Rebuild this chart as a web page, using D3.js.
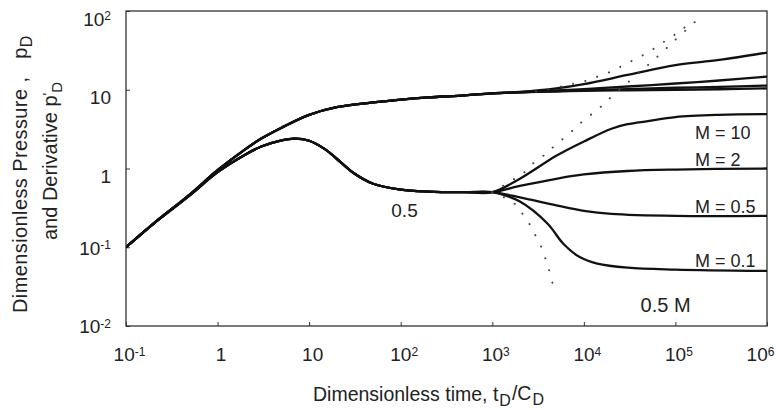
<!DOCTYPE html>
<html>
<head>
<meta charset="utf-8">
<script src="https://cdn.jsdelivr.net/npm/d3@7/dist/d3.min.js"></script>
<style>
  body { margin: 0; background: #fff; }
  svg { font-family: "Liberation Sans", Arial, sans-serif; fill: #222; }
</style>
</head>
<body>
<div id="chart-area"></div>
<script>
// tick values (decades)
var tTicks = [0.1, 1, 10, 100, 1e3, 1e4, 1e5, 1e6];
var pTicks = [0.01, 0.1, 1, 10, 100];

// early time: wellbore storage + skin
var tEarly = [0.1, 0.2, 0.5, 1, 2, 3, 5, 10, 20, 50, 100, 200, 500, 1000];
var pressureEarly = [0.1, 0.2, 0.47, 0.95, 1.75, 2.4, 3.3, 4.8, 6.0, 6.9, 7.5, 8.0, 8.5, 9.0];

var tDeriv = [0.1, 0.2, 0.5, 1, 2, 3, 5, 7, 10, 15, 20, 30, 50, 100, 200, 500, 1000];
var derivEarly = [0.1, 0.2, 0.46, 0.9, 1.5, 1.9, 2.28, 2.4, 2.25, 1.75, 1.33, 0.89, 0.64, 0.54, 0.51, 0.5, 0.5];

// late time, one curve per mobility ratio M
var mobility = ["10", "2", "0.5", "0.1"];
var tLate = [1000, 2000, 5000, 1e4, 3e4, 1e5, 3e5, 1e6];
var pressureM10 = [9.0, 9.4, 10.4, 11.8, 15.4, 20.6, 23.9, 29.7];
var pressureM2 = [9.0, 9.3, 9.8, 10.2, 11.0, 12.0, 13.1, 14.7];
var pressureM05 = [9.0, 9.3, 9.6, 9.9, 10.2, 10.6, 10.9, 11.3];
var pressureM01 = [9.0, 9.25, 9.5, 9.7, 9.85, 10.0, 10.15, 10.4];

var tDerivM10 = [1000, 2000, 5000, 1e4, 2e4, 3e4, 5e4, 1e5, 3e5, 1e6];
var derivM10 = [0.5, 0.74, 1.45, 2.2, 3.2, 3.65, 4.0, 4.5, 4.8, 4.9];
var tDerivM2 = [1000, 2000, 5000, 1e4, 3e4, 1e5, 1e6];
var derivM2 = [0.5, 0.6, 0.74, 0.84, 0.93, 0.97, 1.0];
var tDerivM05 = [1000, 2000, 5000, 1e4, 2e4, 1e5, 1e6];
var derivM05 = [0.5, 0.43, 0.34, 0.29, 0.265, 0.25, 0.25];
var tDerivM01 = [1000, 2000, 4000, 6000, 9000, 14000, 30000, 1e5, 1e6];
var derivM01 = [0.5, 0.38, 0.2, 0.11, 0.075, 0.062, 0.055, 0.052, 0.05];

// dotted limits (no-flow and constant pressure outer boundary)
var tNoFlowP = [3000, 5500, 7900, 10900, 15000, 20900, 28000, 38000, 52000, 70000, 95000, 122000, 160000];
var noFlowP = [9.5, 10.9, 12, 13.1, 15.1, 17.5, 21, 25, 30.6, 38.6, 48.7, 60, 78];
var tNoFlowDeriv = [1000, 1690, 2220, 2860, 3750, 4700, 8200, 10400, 13700, 18000, 64000, 106000, 175000];
var noFlowDeriv = [0.5, 0.72, 0.89, 1.19, 1.5, 1.9, 3.3, 4.3, 5.4, 7.3, 26.5, 46, 78];
var tConstPDeriv = [1000, 1690, 2170, 2600, 3000, 3500, 3860, 4240, 4600];
var constPDeriv = [0.5, 0.37, 0.26, 0.19, 0.137, 0.096, 0.068, 0.048, 0.033];

function zip(ts, vs) { return ts.map(function(t, i) { return [t, vs[i]]; }); }

var margin = { left: 126, right: 9, top: 11, bottom: 84 };
var width = 776 - margin.left - margin.right,
    height = 410 - margin.top - margin.bottom;

var svg = d3.select("#chart-area")
    .append("svg")
        .attr("width", 776)
        .attr("height", 410);

var g = svg.append("g")
    .attr("transform", "translate(" + margin.left + "," + margin.top + ")");

var x = d3.scaleLog().domain([0.1, 1e6]).range([0, width]);
var y = d3.scaleLog().domain([0.01, 100]).range([height, 0]);

function expOf(v) { return Math.round(Math.log10(v)); }
function setPowerLabel(sel) {
    sel.each(function(d) {
        var e = expOf(d), t = d3.select(this);
        t.text(null);
        if (e === 0) { t.text("1"); return; }
        t.append("tspan").text("10");
        if (e !== 1) {
            t.append("tspan").attr("font-size", "12px").attr("dy", "-0.45em").text(e);
        }
    });
}

// X Axis
var xAxis = g.append("g")
    .attr("transform", "translate(0," + height + ")")
    .call(d3.axisBottom(x).tickValues(tTicks).tickSizeInner(-4).tickSizeOuter(0).tickPadding(22));
xAxis.select(".domain").remove();
xAxis.selectAll("text")
    .attr("font-size", "19px").attr("fill", "#222")
    .attr("dx", function(d) { return d === 1e6 ? -7 : 3; })
    .call(setPowerLabel);

// Y Axis
var yAxis = g.append("g")
    .call(d3.axisLeft(y).tickValues(pTicks).tickSizeInner(-4).tickSizeOuter(0).tickPadding(15));
yAxis.select(".domain").remove();
yAxis.selectAll("text")
    .attr("font-size", "19px").attr("fill", "#222")
    .attr("dy", function(d) { return d >= 1 ? "0.74em" : "0.36em"; })
    .call(setPowerLabel);
g.selectAll(".tick line").attr("stroke", "#333");

// frame
g.append("rect")
    .attr("width", width).attr("height", height)
    .attr("fill", "none").attr("stroke", "#333").attr("stroke-width", 1.3);

// X Label
var xl = svg.append("text")
    .attr("x", 313).attr("y", 401)
    .attr("font-size", "19.5px");
xl.append("tspan").text("Dimensionless time,\u00a0t");
xl.append("tspan").attr("font-size", "16px").attr("dy", "0.3em").attr("dx", 1).text("D");
xl.append("tspan").attr("dy", "-0.3em").attr("dx", 1).text("/C");
xl.append("tspan").attr("font-size", "16px").attr("dy", "0.3em").attr("dx", 1).text("D");

// Y Label
var yl1 = svg.append("text")
    .attr("transform", "translate(27,313) rotate(-90)")
    .attr("font-size", "20px")
    .attr("letter-spacing", "0.4px");
yl1.append("tspan").text("Dimensionless Pressure\u00a0,\u00a0\u00a0\u00a0p");
yl1.append("tspan").attr("font-size", "16px").attr("dy", "0.3em").text("D");

var yl2 = svg.append("text")
    .attr("transform", "translate(57,240) rotate(-90)")
    .attr("font-size", "20px");
yl2.append("tspan").text("and Derivative p");
yl2.append("tspan").attr("font-size", "14px").attr("dy", "-0.3em").text("'");
yl2.append("tspan").attr("font-size", "15px").attr("dy", "0.6em").text("D");

// curves
g.append("clipPath").attr("id", "plot-clip")
    .append("rect").attr("width", width).attr("height", height);
var plot = g.append("g").attr("clip-path", "url(#plot-clip)");

var line = d3.line()
    .x(function(d) { return x(d[0]); })
    .y(function(d) { return y(d[1]); })
    .curve(d3.curveCatmullRom.alpha(0.5));

var earlyP = zip(tEarly, pressureEarly);
var earlyD = zip(tDeriv, derivEarly);
var pressureLate = [pressureM10, pressureM2, pressureM05, pressureM01];
var derivLate = [zip(tDerivM10, derivM10), zip(tDerivM2, derivM2), zip(tDerivM05, derivM05), zip(tDerivM01, derivM01)];

var solid = [];
pressureLate.forEach(function(vals) { solid.push(earlyP.concat(zip(tLate, vals).slice(1))); });
derivLate.forEach(function(pts) { solid.push(earlyD.concat(pts.slice(1))); });

plot.selectAll("path.solid")
    .data(solid)
    .enter().append("path")
        .attr("class", "solid")
        .attr("d", line)
        .attr("fill", "none")
        .attr("stroke", "#111")
        .attr("stroke-width", 2.3)
        .attr("stroke-linejoin", "round");

var dotted = [zip(tNoFlowP, noFlowP), zip(tNoFlowDeriv, noFlowDeriv), zip(tConstPDeriv, constPDeriv)];
plot.selectAll("path.dotted")
    .data(dotted)
    .enter().append("path")
        .attr("class", "dotted")
        .attr("d", line)
        .attr("fill", "none")
        .attr("stroke", "#444")
        .attr("stroke-width", 2)
        .attr("stroke-linecap", "round")
        .attr("stroke-dasharray", "0.1,12.5");

// labels
var finalDeriv = [derivM10, derivM2, derivM05, derivM01].map(function(a) { return a[a.length - 1]; });
var labelShift = [25, -3, -3, -4];
g.selectAll("text.mlabel")
    .data(mobility)
    .enter().append("text")
        .attr("class", "mlabel")
        .attr("x", x(1e6) - 72)
        .attr("y", function(d, i) { return y(finalDeriv[i]) + labelShift[i]; })
        .attr("font-size", "18px")
        .text(function(d) { return "M = " + d; });

g.append("text")
    .attr("x", x(110)).attr("y", y(0.5) + 25)
    .attr("text-anchor", "middle")
    .attr("font-size", "19px")
    .text("0.5");

g.append("text")
    .attr("x", x(78000)).attr("y", y(0.015))
    .attr("text-anchor", "middle")
    .attr("font-size", "20px")
    .text("0.5 M");
</script>
</body>
</html>
